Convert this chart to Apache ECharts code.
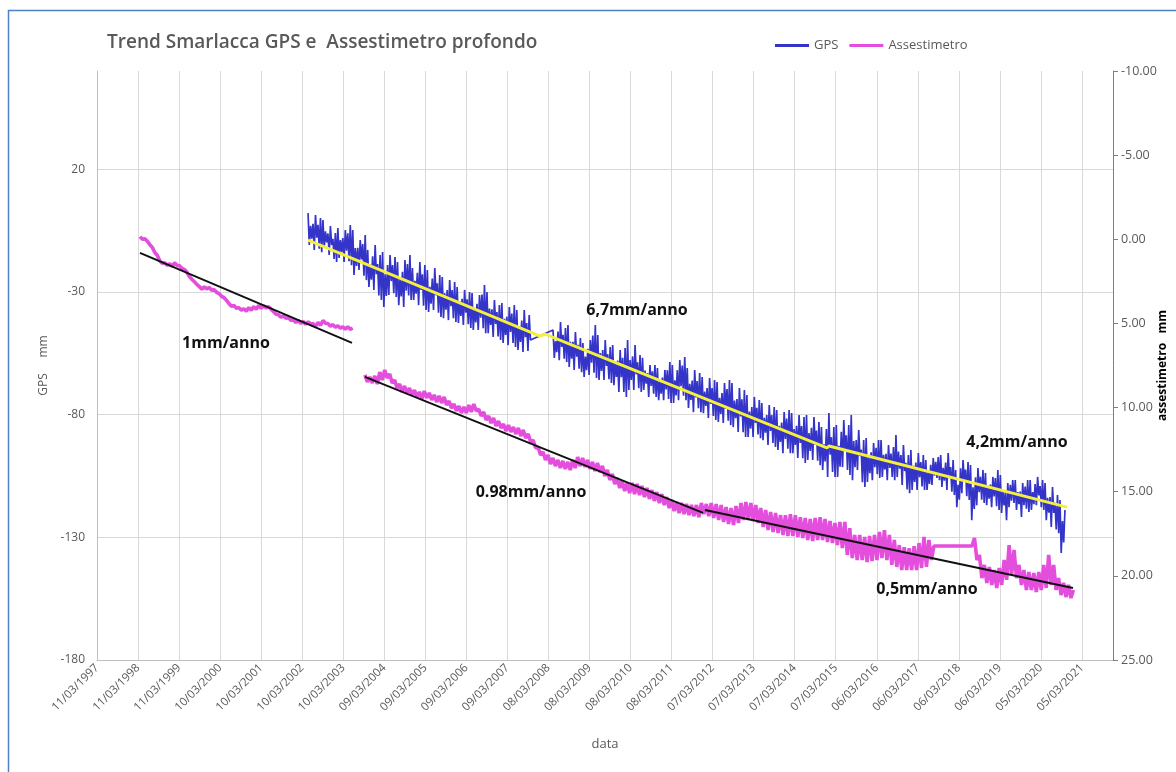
<!DOCTYPE html>
<html>
<head>
<meta charset="utf-8">
<script src="https://cdn.jsdelivr.net/npm/echarts@6/dist/echarts.min.js"></script>
<style>
  html, body { margin: 0; padding: 0; background: #ffffff; }
  #chart { width: 1176px; height: 772px; }
</style>
</head>
<body>
<div id="chart"></div>
<script>
// ---- Data -------------------------------------------------------------
// Dates are ISO strings; the x axis counts days from the first tick date.
const axisStartDate = '1997-03-11';
const axisTickDays = 365;

// GPS readings (mm), sampled on a regular grid, two campaigns
const gpsStepDays = 11.05;
const gpsStartA = '2002-05-01';
const gpsA = [
  2.1,-10.9,-3.1,-8.3, -2.3,-12.9,1.3,-7.9, -2.7,-12.4,0.1,-13.8, -0.7,-12.1,-5.3,-9.8, -6.2,-15.0,-3.2,-10.9,
  -8.4,-16.6,-6.0,-17.8, -4.0,-16.2,-8.9,-13.8, -8.1,-17.8,-4.8,-13.2, -6.1,-17.5,-2.8,-19.1, -4.8,-23.1,-12.1,-19.4,
  -12.0,-21.1,-8.9,-16.8, -10.5,-23.4,-6.8,-25.2, -12.9,-28.0,-18.9,-25.0, -15.5,-29.2,-10.9,-22.8, -18.7,-31.5,-15.0,-33.3,
  -13.8,-36.2,-22.8,-31.7, -19.1,-31.3,-15.0,-25.6, -19.1,-30.5,-15.8,-32.1, -17.8,-35.4,-24.8,-31.9, -21.8,-36.2,-17.0,-29.5,
  -18.7,-31.5,-15.0,-33.3, -20.3,-33.3,-25.5,-30.7, -22.2,-35.4,-17.8,-29.2, -22.8,-35.6,-19.1,-37.4, -21.1,-38.2,-27.9,-34.8,
  -24.6,-37.4,-20.3,-31.4, -26.5,-38.5,-23.1,-40.2, -23.9,-40.7,-30.6,-37.3, -29.3,-41.5,-25.2,-35.8, -29.3,-40.7,-26.0,-42.3,
  -28.0,-42.7,-33.9,-39.8, -32.8,-43.5,-29.2,-38.5, -33.0,-43.2,-30.1,-44.7, -30.5,-45.5,-36.5,-42.5, -34.9,-45.5,-31.3,-40.5,
  -31.1,-44.8,-27.2,-46.8, -30.1,-46.8,-36.8,-43.5, -37.1,-48.4,-33.3,-43.1, -38.2,-48.2,-35.4,-49.6, -34.5,-50.8,-41.0,-47.5,
  -40.1,-51.7,-36.2,-46.3, -38.8,-50.8,-35.4,-52.5, -37.4,-53.7,-43.9,-50.4, -41.7,-54.5,-37.4,-48.5, -42.7,-54.1,-39.4,-49.6
];
const gpsStartB = '2008-04-18';
const gpsB = [
  -45.5,-56.9,-50.1,-54.6, -46.2,-57.8,-42.3,-52.4, -47.5,-57.2,-44.7,-58.6, -43.5,-60.6,-50.3,-57.2, -50.3,-61.8,-46.4,-56.4,
  -51.6,-61.3,-48.8,-62.7, -50.8,-64.7,-56.4,-61.9, -53.2,-63.9,-49.6,-58.9, -47.8,-62.9,-43.5,-65.1, -47.6,-65.9,-54.9,-62.2,
  -53.7,-65.9,-49.6,-60.2, -55.4,-65.6,-52.5,-67.1, -51.7,-68.0,-58.2,-64.7, -58.0,-70.8,-53.7,-64.8, -56.9,-70.8,-52.9,-72.8,
  -49.6,-70.0,-57.8,-65.9, -56.3,-70.0,-51.7,-63.6, -58.7,-69.3,-55.7,-70.8, -56.9,-70.0,-62.1,-67.4, -63.1,-72.8,-59.8,-68.3,
  -62.4,-71.5,-59.8,-72.8, -61.0,-74.1,-66.2,-71.5, -64.9,-74.1,-61.8,-69.8, -61.9,-73.6,-58.6,-75.3, -59.8,-75.3,-66.0,-72.2,
  -61.9,-74.1,-57.8,-68.4, -60.0,-72.3,-56.5,-74.1, -61.0,-77.3,-67.5,-74.0, -66.1,-79.0,-61.8,-73.0, -66.3,-77.4,-63.1,-79.0,
  -64.7,-79.4,-70.6,-76.5, -69.2,-81.4,-65.1,-75.7, -69.2,-80.6,-65.9,-82.2, -66.7,-83.0,-73.2,-79.7, -71.2,-83.4,-67.1,-77.7,
  -69.6,-82.5,-65.9,-84.3, -67.1,-85.1,-74.3,-81.5, -73.7,-87.1,-69.2,-80.8, -73.8,-87.2,-70.0,-89.1, -72.0,-89.1,-78.8,-85.7,
  -76.9,-89.1,-72.8,-83.4, -77.2,-88.1,-74.1,-89.6, -75.3,-90.4,-81.3,-87.4, -80.2,-92.4,-76.1,-86.7, -80.2,-91.6,-76.9,-93.2,
  -78.1,-94.4,-84.6,-91.1, -83.2,-95.7,-79.0,-89.9, -81.6,-93.9,-78.1,-95.7, -79.4,-95.7,-85.9,-92.4, -84.6,-97.7,-80.2,-91.6,
  -84.7,-97.8,-81.0,-99.7, -80.2,-98.5,-87.5,-94.8, -85.4,-98.5,-81.0,-92.4, -86.5,-98.8,-83.0,-100.6, -85.1,-102.6,-92.1,-99.1,
  -85.9,-105.4,-79.4,-96.3, -89.2,-103.4,-85.1,-105.4, -84.3,-105.4,-92.7,-101.2, -87.0,-101.4,-82.2,-94.7, -88.4,-102.6,-84.3,-104.6,
  -80.2,-106.7,-90.8,-101.4, -90.4,-102.6,-86.3,-96.9, -94.2,-107.6,-90.4,-109.5, -89.6,-107.5,-96.8,-103.9, -95.4,-106.7,-91.6,-101.4,
  -93.5,-104.3,-90.4,-105.8, -90.4,-105.4,-96.4,-102.4, -96.0,-106.7,-92.4,-101.7, -95.9,-105.4,-93.2,-106.7, -88.3,-105.4,-95.1,-102.0,
  -96.5,-108.7,-92.4,-103.0, -99.6,-110.5,-96.5,-112.0, -94.4,-110.7,-100.9,-107.4, -99.5,-110.7,-95.7,-105.5, -99.3,-109.3,-96.5,-110.7,
  -98.5,-110.7,-103.4,-108.3, -100.5,-108.7,-97.7,-104.9, -99.2,-105.8,-97.3,-106.7, -96.5,-109.5,-101.7,-106.9, -99.5,-110.7,-95.7,-105.5,
  -101.4,-111.4,-98.5,-112.8, -102.6,-117.7,-108.6,-114.7, -101.9,-112.0,-98.5,-107.3, -102.4,-113.3,-99.3,-114.8, -100.6,-123.0,-109.6,-118.5,
  -105.6,-116.9,-101.8,-111.6, -105.3,-114.7,-102.6,-116.0, -103.8,-116.9,-109.0,-114.3, -108.5,-117.7,-105.4,-113.4, -105.9,-117.3,-102.6,-118.9,
  -104.6,-120.1,-110.8,-117.0, -111.7,-123.0,-107.9,-117.7, -108.6,-115.1,-106.7,-116.0, -106.7,-118.9,-111.6,-116.5, -111.4,-121.7,-107.9,-116.9,
  -109.3,-118.4,-106.7,-119.7, -106.7,-118.9,-111.6,-116.5, -108.3,-116.9,-105.4,-112.9, -109.1,-117.7,-106.7,-118.9, -107.9,-123.0,-113.9,-120.0,
  -113.6,-125.8,-109.5,-120.1, -115.9,-126.8,-112.8,-128.3, -114.8,-136.4,-123.4,-132.1, -118.9
];

// Deep extensometer (mm), three recording periods on a regular grid
const assStepDays = 22;
const assStart1 = '1998-03-28';
const ass1 = [
  -0.16,0.00, -0.04,0.12, 0.32,0.48, 0.79,0.95, 1.27,1.43, 1.39,1.55, 1.45,1.61, 1.39,1.55, 1.57,1.73, 1.80,1.96,
  2.22,2.38, 2.52,2.68, 2.81,2.97, 2.83,2.95, 2.87,3.03, 2.99,3.15, 3.23,3.39, 3.47,3.63, 3.82,3.98, 3.94,4.10,
  4.06,4.22, 4.12,4.28, 4.06,4.22, 4.00,4.16, 3.94,4.10, 3.96,4.08, 4.00,4.16, 4.30,4.46, 4.48,4.64, 4.54,4.70,
  4.66,4.82, 4.78,4.94, 4.83,4.99, 4.89,5.05, 4.91,5.03, 5.01,5.17, 4.95,5.11, 4.83,4.99, 5.01,5.17, 5.07,5.23,
  5.13,5.29, 5.19,5.35, 5.19,5.35, 5.27
];
const assStart2 = '2003-09-19';
const ass2 = [
  8.06,8.48, 8.18,8.54, 8.12,8.60, 7.89,8.36, 7.77,8.24, 8.00,8.54, 8.36,8.84, 8.60,9.07, 8.72,9.13, 8.84,9.25,
  8.96,9.37, 9.07,9.49, 9.02,9.43, 9.13,9.55, 9.25,9.67, 9.31,9.73, 9.37,9.85, 9.61,10.03, 9.79,10.20, 9.91,10.32,
  9.97,10.32, 9.85,10.26, 9.79,10.20, 10.09,10.50, 10.26,10.74, 10.50,10.92, 10.62,11.10, 10.80,11.21, 10.98,11.39, 11.04,11.45,
  11.16,11.57, 11.21,11.69, 11.33,11.81, 11.57,12.05, 11.93,12.40, 12.34,12.82, 12.64,13.11, 12.82,13.35, 13.00,13.47, 13.11,13.59,
  13.17,13.65, 13.23,13.71, 13.11,13.59, 12.94,13.47, 13.00,13.53, 13.11,13.65, 13.23,13.77, 13.29,13.83, 13.47,14.07, 13.71,14.30,
  13.95,14.54, 14.18,14.78, 14.36,14.96, 14.48,15.08, 14.48,15.14, 14.54,15.20, 14.66,15.32, 14.78,15.43, 14.90,15.55, 15.02,15.67,
  15.14,15.79, 15.32,15.97, 15.49,16.15, 15.61,16.27, 15.67,16.33, 15.73,16.39, 15.79,16.45, 15.79,16.51, 15.67,16.33, 15.73,16.45,
  15.67,16.56, 15.73,16.68, 15.79,16.80, 15.91,16.92, 15.97,16.98, 15.85,16.86, 15.67,16.68, 15.61,16.68, 15.67,16.74, 15.79,16.86,
  15.97,17.10, 16.09,17.28, 16.21,17.39, 16.27,17.45, 16.39,17.57, 16.39,17.63, 16.33,17.63, 16.39,17.69, 16.51,17.75, 16.56,17.87,
  16.62,17.93, 16.56,17.87, 16.51,17.87, 16.62,17.99, 16.74,18.05, 16.86,18.17, 16.80,18.35, 16.80,18.76, 17.16,18.94, 17.57,19.06,
  17.57,19.06, 17.69,19.18, 17.63,19.12, 17.57,19.06, 17.39,18.94, 17.28,19.06, 17.57,19.35, 17.87,19.47, 18.17,19.65, 18.29,19.65,
  18.35,19.65, 18.23,19.65, 18.05,19.53, 17.69,19.47, 17.87,19.06, 18.23
];
const assStart3 = '2018-07-01';
const ass3 = [
  18.23, 17.75,19.06, 18.76,20.13, 19.35,20.42, 19.47,20.54, 19.65,20.72, 19.53,20.54, 19.06,20.24, 18.17,19.95, 18.46,20.13,
  19.35,20.54, 19.65,20.84, 19.77,20.84, 19.83,20.96, 19.77,20.84, 19.35,20.72, 18.76,20.54, 19.35,20.84, 20.13,21.14, 20.42,21.26,
  20.54,21.32, 20.84
];

// Linear trends
const trendGpsDates  = ['2002-05-01', '2007-12-24', '2008-02-06', '2014-12-19', '2015-01-06', '2020-10-23'];
const trendGpsValues = [-8.9, -48.0, -47.2, -93.6, -92.8, -117.7];
const trendAss1Dates  = ['1998-03-28', '2003-05-27'];
const trendAss1Values = [0.81, 6.16];
const trendAss2Dates  = ['2003-09-19', '2011-12-13'];
const trendAss2Values = [8.18, 16.26];
const trendAss3Dates  = ['2011-12-30', '2020-12-15'];
const trendAss3Values = [16.09, 20.72];

// Rate annotations
const rateLabels = ['1mm/anno', '6,7mm/anno', '0.98mm/anno', '4,2mm/anno', '0,5mm/anno'];

// ---- Helpers ----------------------------------------------------------
const DAY_MS = 86400000;
function utc(s) { const p = s.split('-').map(Number); return Date.UTC(p[0], p[1] - 1, p[2]); }
const BASE = utc(axisStartDate);
function dayOf(s) { return Math.round((utc(s) - BASE) / DAY_MS); }
function pad(n) { return (n < 10 ? '0' : '') + n; }
function fmtDay(v) {
  const d = new Date(BASE + Math.round(v) * DAY_MS);
  return pad(d.getUTCDate()) + '/' + pad(d.getUTCMonth() + 1) + '/' + d.getUTCFullYear();
}
function gridSeries(start, step, values) {
  const d0 = dayOf(start);
  return values.map((v, i) => [d0 + i * step, v]);
}
function pairs(dates, values) { return dates.map((d, i) => [dayOf(d), values[i]]); }

const gpsData = gridSeries(gpsStartA, gpsStepDays, gpsA)
  .concat(gridSeries(gpsStartB, gpsStepDays, gpsB));
const ass1Data = gridSeries(assStart1, assStepDays, ass1);
const assData = ass1Data
  .concat([[ass1Data[ass1Data.length - 1][0] + 60, '-']])
  .concat(gridSeries(assStart2, assStepDays, ass2))
  .concat(gridSeries(assStart3, assStepDays, ass3));

// ---- Chart ------------------------------------------------------------
const FONT = "'Open Sans', 'Liberation Sans', sans-serif";
const GREY = '#595959';
const GPS_COLOR = '#3434c8';
const ASS_COLOR = '#e44edc';

const chart = echarts.init(document.getElementById('chart'), null, { renderer: 'canvas' });

const trendLine = (name, axis, data, color, width) => ({
  name, type: 'line', yAxisIndex: axis, data,
  showSymbol: false, symbol: 'none', silent: true, z: 4,
  lineStyle: { color, width }, itemStyle: { color }
});

chart.setOption({
  animation: false,
  backgroundColor: '#ffffff',
  textStyle: { fontFamily: FONT },
  title: {
    text: 'Trend Smarlacca GPS e  Assestimetro profondo',
    left: 107, top: 33, padding: 0,
    textStyle: { fontFamily: FONT, fontSize: 19, fontWeight: 600, color: GREY }
  },
  legend: {
    data: ['GPS', 'Assestimetro'],
    left: 775, top: 39, padding: 0,
    icon: 'rect', itemWidth: 34, itemHeight: 3, itemGap: 11,
    textStyle: { fontFamily: FONT, fontSize: 13, color: GREY }
  },
  grid: { left: 97, right: 63, top: 71, bottom: 112, containLabel: false, outerBoundsMode: 'none' },
  xAxis: {
    type: 'value',
    min: 0, max: 9036, interval: axisTickDays,
    name: 'data', nameLocation: 'middle', nameGap: 78,
    nameTextStyle: { fontFamily: FONT, fontSize: 13, color: GREY },
    axisLine: { show: true, onZero: false, lineStyle: { color: '#bfbfbf', width: 1 } },
    axisTick: { show: false },
    axisLabel: {
      rotate: 45, margin: 6, fontSize: 11.5, color: GREY, fontFamily: FONT,
      showMaxLabel: false, formatter: fmtDay
    },
    splitLine: { show: true, lineStyle: { color: '#d9d9d9', width: 1 } }
  },
  yAxis: [
    {
      type: 'value', position: 'left',
      min: -180, max: 60, interval: 50,
      name: 'GPS     mm', nameLocation: 'middle', nameGap: 45,
      nameTextStyle: { fontFamily: FONT, fontSize: 12, color: GREY },
      axisLine: { show: true, onZero: false, lineStyle: { color: '#bfbfbf', width: 1 } },
      axisTick: { show: false },
      axisLabel: { margin: 12, fontSize: 12, color: GREY, fontFamily: FONT, showMaxLabel: false },
      splitLine: { show: true, showMaxLine: false, lineStyle: { color: '#d9d9d9', width: 1 } }
    },
    {
      type: 'value', position: 'right', inverse: true,
      min: -10, max: 25, interval: 5,
      name: 'assestimetro   mm', nameLocation: 'middle', nameGap: 44, nameMoveOverlap: false,
      nameTextStyle: { fontFamily: FONT, fontSize: 12, fontWeight: 'bold', color: '#000000' },
      axisLine: { show: true, onZero: false, lineStyle: { color: '#7f7f7f', width: 1 } },
      axisTick: { show: true, inside: false, length: 5, lineStyle: { color: '#7f7f7f' } },
      axisLabel: {
        margin: 8, fontSize: 12.5, color: GREY, fontFamily: FONT,
        formatter: v => v.toFixed(2)
      },
      splitLine: { show: false }
    }
  ],
  series: [
    {
      name: 'GPS', type: 'line', yAxisIndex: 0, data: gpsData,
      showSymbol: false, symbol: 'none', z: 2,
      lineStyle: { color: GPS_COLOR, width: 1.7 }, itemStyle: { color: GPS_COLOR }
    },
    {
      name: 'Assestimetro', type: 'line', yAxisIndex: 1, data: assData,
      showSymbol: false, symbol: 'none', z: 2, connectNulls: false,
      lineStyle: { color: ASS_COLOR, width: 3.6 }, itemStyle: { color: ASS_COLOR }
    },
    trendLine('trend GPS', 0, pairs(trendGpsDates, trendGpsValues), '#f3ef3c', 3),
    trendLine('trend 1', 1, pairs(trendAss1Dates, trendAss1Values), '#111111', 2),
    trendLine('trend 2', 1, pairs(trendAss2Dates, trendAss2Values), '#111111', 2),
    trendLine('trend 3', 1, pairs(trendAss3Dates, trendAss3Values), '#111111', 2)
  ],
  graphic: [
    {
      type: 'rect', silent: true, z: 100,
      shape: { x: 8.5, y: 10.5, width: 1200, height: 800 },
      style: { fill: 'none', stroke: '#4f81c7', lineWidth: 1.5 }
    },
    ...[[226, 343], [637, 310], [531, 492], [1017, 442], [927, 589]].map((p, i) => ({
      type: 'text', x: p[0], y: p[1], z: 100, silent: true,
      style: {
        text: rateLabels[i], align: 'center', verticalAlign: 'middle',
        font: "bold 16px 'Open Sans', 'Liberation Sans', sans-serif", fill: '#111111'
      }
    }))
  ]
});
</script>
</body>
</html>
